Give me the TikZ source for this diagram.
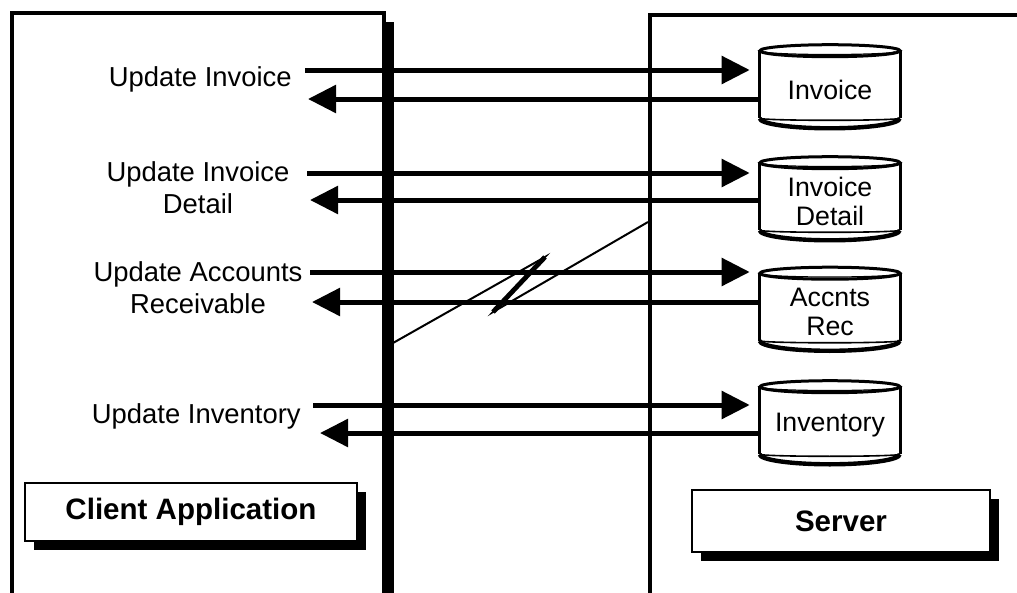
\documentclass[tikz,border=0pt]{standalone}
\usepackage{fontspec}
\setmainfont{Liberation Sans}
\usepackage{tikz}
\usetikzlibrary{arrows.meta,calc,shadows}

% outline of a database drum round a named node
\newcommand{\dbdrum}[1]{%
\draw [drumline] ($(#1.north west)+(0,3)$) -- ($(#1.south west)+(0,-13)$);
\draw [drumline] ($(#1.north east)+(0,3)$) -- ($(#1.south east)+(0,-13)$);
\draw [drumline] ($(#1.north)+(0,3)$) ellipse [x radius=1.75cm, y radius=0.15cm];
\draw [line width=0.03cm] ($(#1.north west)+(5,4)$) arc [start angle=180, end angle=360, x radius=1.625cm, y radius=0.07cm];
\draw [line width=0.04cm] ($(#1.south west)+(0,-13)$) arc [start angle=180, end angle=360, x radius=1.75cm, y radius=0.05cm];
\draw [line width=0.11cm] ($(#1.south west)+(0,-13)$) arc [start angle=180, end angle=360, x radius=1.75cm, y radius=0.25cm];
}

\begin{document}
\begin{tikzpicture}[x=0.025cm, y=-0.025cm,
  panel/.style={line width=0.1cm},
  flow/.style={line width=0.125cm, -{Triangle[length=0.7cm, width=0.68cm]}},
  drumline/.style={line width=0.075cm},
  dbase/.style={minimum width=3.5cm, minimum height=2.075cm, inner sep=0pt, align=center, font=\fontsize{19}{21}\selectfont},
  lbl/.style={inner sep=0pt, font=\fontsize{19.5}{22.5}\selectfont},
  tag/.style={draw, line width=0.07cm, fill=white, drop shadow={shadow xshift=0.22cm, shadow yshift=-0.22cm, fill=black, opacity=1}, font=\bfseries\fontsize{21}{24}\selectfont},
  wan/.style={line width=0.05cm}]

\clip (0,0) rectangle (1017,592);

% client and server sides
\fill (384,22) rectangle (394,620);
\draw [panel] (12,13) rectangle (384,620);
\draw [panel] (1040,15) -| (650,620);

% databases
\node[dbase] (inv) at (830,89.5) {Invoice};
\node[dbase] (det) at (830,201.5) {Invoice\\Detail};
\node[dbase] (acc) at (830,312) {Accnts\\Rec};
\node[dbase] (ivt) at (830,425.5) {Inventory};

\dbdrum{inv}
\dbdrum{det}
\dbdrum{acc}
\dbdrum{ivt}

% client requests
\node[lbl, anchor=east] (l1) at (292,79) {Update Invoice};
\node[lbl, align=center] (l2) at (198,188) {Update Invoice\\Detail};
\node[lbl, align=center] (l3) at (198,288) {Update Accounts\\Receivable};
\node[lbl, anchor=east] (l4) at (301,416) {Update Inventory};

\coordinate (o1) at (305,70);
\coordinate (i1) at (308,99);
\coordinate (o2) at (307,173);
\coordinate (i2) at (310,200);
\coordinate (o3) at (310,272);
\coordinate (i3) at (312,302);
\coordinate (o4) at (313,405);
\coordinate (i4) at (320,433);

\draw [flow, shorten >=0.25cm] (o1) -- (o1 -| inv.west);
\draw [flow] (inv.west |- i1) -- (i1);
\draw [flow, shorten >=0.25cm] (o2) -- (o2 -| det.west);
\draw [flow] (det.west |- i2) -- (i2);
\draw [flow, shorten >=0.25cm] (o3) -- (o3 -| acc.west);
\draw [flow] (acc.west |- i3) -- (i3);
\draw [flow, shorten >=0.25cm] (o4) -- (o4 -| ivt.west);
\draw [flow] (ivt.west |- i4) -- (i4);

% wide area link
\coordinate (w1) at (393,343);
\coordinate (w2) at (545,257);
\coordinate (w3) at (493,312);
\coordinate (w4) at (648,222);

\draw [wan] (w1) -- (w2) -- (w3) -- (w4);
\draw [line width=0.12cm] (w2) -- (w3);

% side names
\node[tag, minimum width=8.3cm, minimum height=1.45cm] (cli) at (191,512) {Client Application};
\node[tag, minimum width=7.45cm, minimum height=1.55cm] (srv) at (841,521) {Server};

\end{tikzpicture}
\end{document}
